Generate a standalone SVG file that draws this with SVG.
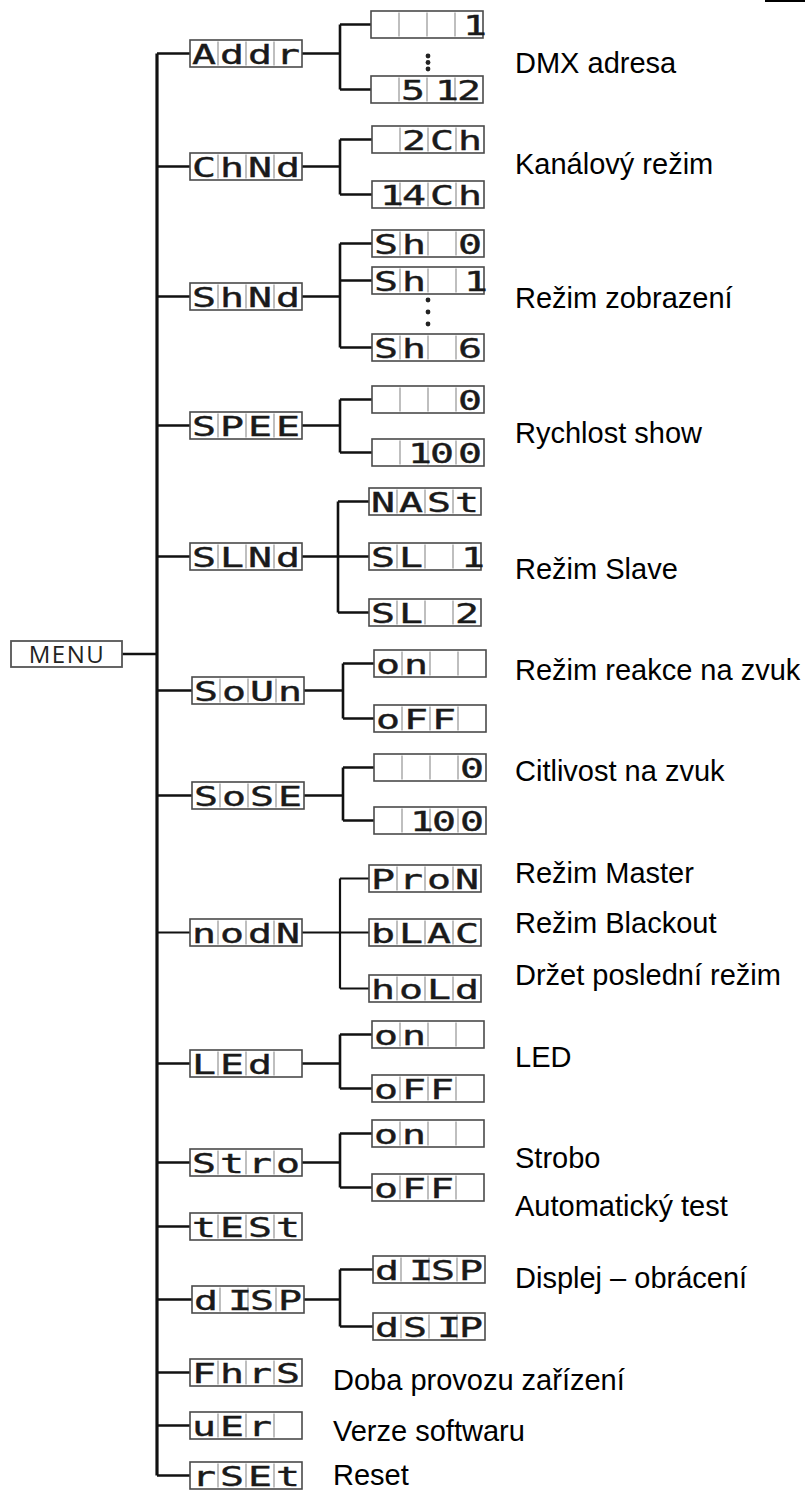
<svg xmlns="http://www.w3.org/2000/svg" xmlns:xlink="http://www.w3.org/1999/xlink" width="805" height="1492" viewBox="0 0 805 1492">
<style>
.bx{fill:#fff;stroke:#4a4a4a;stroke-width:1.6}
.dv{stroke:#b0b0b0;stroke-width:1.6;fill:none}
.seg{font-family:"DejaVu Sans Mono",monospace;font-size:21px;fill:#1a1a1a;stroke:#1a1a1a;stroke-width:0.3;text-anchor:middle}
.lbl{font-family:"Liberation Sans",Arial,sans-serif;font-size:29px;fill:#000}
.cn{fill:none;stroke:#111;stroke-width:2.6}
.tr{fill:none;stroke:#111;stroke-width:3.2}
.dot{fill:#222}
</style>
<defs>
<g id="box"><rect class="bx" x="0" y="0" width="112" height="27"/><path class="dv" d="M28 1.5V25.5M56 1.5V25.5M84 1.5V25.5"/></g>
</defs>
<rect width="805" height="1492" fill="#fff"/>
<path d="M765 1H805" stroke="#000" stroke-width="2"/>

<g id="connectors">
<path class="tr" d="M157 53.5V1475.5"/>
<path class="cn" d="M122 654H157"/>
<path class="cn" d="M157 53.5H190M302 53.5H340M340 24.5V89.5M340 24.5H371M340 89.5H371"/>
<path class="cn" d="M157 166.5H190M302 166.5H340M340 139.5V194.5M340 139.5H372M340 194.5H372"/>
<path class="cn" d="M157 296.5H190M302 296.5H340M340 243.5V347.5M340 243.5H372M340 280.5H372M340 347.5H372"/>
<path class="cn" d="M157 425.5H190M302 425.5H340M340 399.5V452.5M340 399.5H372M340 452.5H372"/>
<path class="cn" d="M157 556.5H190M302 556.5H338M338 501.5V612.5M338 501.5H369M338 556.5H369M338 612.5H369"/>
<path class="cn" d="M157 690.5H192M304 690.5H343M343 663.5V718.5M343 663.5H374M343 718.5H374"/>
<path class="cn" d="M157 795.5H192M304 795.5H343M343 767.5V820.5M343 767.5H374M343 820.5H374"/>
<path class="cn" d="M157 932.5H190M302 932.5H369M340 878.5V988.5M340 878.5H369M340 988.5H369" style="stroke-width:2.2"/>
<path class="cn" d="M157 1063.5H190M302 1063.5H340M340 1034.5V1088.5M340 1034.5H372M340 1088.5H372"/>
<path class="cn" d="M157 1162.5H190M302 1162.5H340M340 1133.5V1187.5M340 1133.5H372M340 1187.5H372"/>
<path class="cn" d="M157 1226.5H190"/>
<path class="cn" d="M157 1299.5H192M304 1299.5H340M340 1269.5V1326.5M340 1269.5H373M340 1326.5H373"/>
<path class="cn" d="M157 1372.5H190"/>
<path class="cn" d="M157 1425.5H190"/>
<path class="cn" d="M157 1475.5H190"/>
<circle class="dot" cx="428" cy="56" r="2.4"/><circle class="dot" cx="428" cy="62.5" r="2.4"/><circle class="dot" cx="428" cy="69" r="2.4"/>
<circle class="dot" cx="428" cy="300" r="2.4"/><circle class="dot" cx="428" cy="312" r="2.4"/><circle class="dot" cx="428" cy="324" r="2.4"/>
</g>

<g id="menu"><rect x="11" y="641" width="111" height="26" fill="#fff" stroke="#555" stroke-width="1.8"/><text x="67" y="663" text-anchor="middle" style="font-family:'Open Sans',sans-serif;font-size:24px;letter-spacing:1.5px;fill:#222">MENU</text></g>

<g id="n-addr" transform="translate(190,40)"><use href="#box"/><text class="seg" transform="scale(1.9,1.3)" x="7.37 22.1 36.84 51.58" y="18.5">Addr</text></g>
<g id="n-addr-1" transform="translate(371,11)"><use href="#box"/><text class="seg" transform="scale(1.9,1.3)" x="54.7" y="18.5">1</text></g>
<g id="n-addr-512" transform="translate(371,76)"><use href="#box"/><text class="seg" transform="scale(1.9,1.3)" x="22.1 40 51.58" y="18.5">512</text></g>

<g id="n-chnd" transform="translate(190,153)"><use href="#box"/><text class="seg" transform="scale(1.9,1.3)" x="7.37 22.1 36.84 51.58" y="18.5">ChNd</text></g>
<g id="n-2ch" transform="translate(372,126)"><use href="#box"/><text class="seg" transform="scale(1.9,1.3)" x="22.1 36.84 51.58" y="18.5">2Ch</text></g>
<g id="n-14ch" transform="translate(372,181)"><use href="#box"/><text class="seg" transform="scale(1.9,1.3)" x="10.5 22.1 36.84 51.58" y="18.5">14Ch</text></g>

<g id="n-shnd" transform="translate(190,283)"><use href="#box"/><text class="seg" transform="scale(1.9,1.3)" x="7.37 22.1 36.84 51.58" y="18.5">ShNd</text></g>
<g id="n-sh0" transform="translate(372,230)"><use href="#box"/><text class="seg" transform="scale(1.9,1.3)" x="7.37 22.1 51.58" y="18.5">Sh0</text></g>
<g id="n-sh1" transform="translate(372,267)"><use href="#box"/><text class="seg" transform="scale(1.9,1.3)" x="7.37 22.1 54.7" y="18.5">Sh1</text></g>
<g id="n-sh6" transform="translate(372,334)"><use href="#box"/><text class="seg" transform="scale(1.9,1.3)" x="7.37 22.1 51.58" y="18.5">Sh6</text></g>

<g id="n-spee" transform="translate(190,412)"><use href="#box"/><text class="seg" transform="scale(1.9,1.3)" x="7.37 22.1 36.84 51.58" y="18.5">SPEE</text></g>
<g id="n-spee-0" transform="translate(372,386)"><use href="#box"/><text class="seg" transform="scale(1.9,1.3)" x="51.58" y="18.5">0</text></g>
<g id="n-spee-100" transform="translate(372,439)"><use href="#box"/><text class="seg" transform="scale(1.9,1.3)" x="25.26 36.84 51.58" y="18.5">100</text></g>

<g id="n-slnd" transform="translate(190,543)"><use href="#box"/><text class="seg" transform="scale(1.9,1.3)" x="7.37 22.1 36.84 51.58" y="18.5">SLNd</text></g>
<g id="n-nast" transform="translate(369,488)"><use href="#box"/><text class="seg" transform="scale(1.9,1.3)" x="7.37 22.1 36.84 51.58" y="18.5">NASt</text></g>
<g id="n-sl1" transform="translate(369,543)"><use href="#box"/><text class="seg" transform="scale(1.9,1.3)" x="7.37 22.1 54.7" y="18.5">SL1</text></g>
<g id="n-sl2" transform="translate(369,599)"><use href="#box"/><text class="seg" transform="scale(1.9,1.3)" x="7.37 22.1 51.58" y="18.5">SL2</text></g>

<g id="n-soun" transform="translate(192,677)"><use href="#box"/><text class="seg" transform="scale(1.9,1.3)" x="7.37 22.1 36.84 51.58" y="18.5">SoUn</text></g>
<g id="n-soun-on" transform="translate(374,650)"><use href="#box"/><text class="seg" transform="scale(1.9,1.3)" x="7.37 22.1" y="18.5">on</text></g>
<g id="n-soun-off" transform="translate(374,705)"><use href="#box"/><text class="seg" transform="scale(1.9,1.3)" x="7.37 22.1 36.84" y="18.5">oFF</text></g>

<g id="n-sose" transform="translate(192,782)"><use href="#box"/><text class="seg" transform="scale(1.9,1.3)" x="7.37 22.1 36.84 51.58" y="18.5">SoSE</text></g>
<g id="n-sose-0" transform="translate(374,754)"><use href="#box"/><text class="seg" transform="scale(1.9,1.3)" x="51.58" y="18.5">0</text></g>
<g id="n-sose-100" transform="translate(374,807)"><use href="#box"/><text class="seg" transform="scale(1.9,1.3)" x="25.26 36.84 51.58" y="18.5">100</text></g>

<g id="n-nodn" transform="translate(190,919)"><use href="#box"/><text class="seg" transform="scale(1.9,1.3)" x="7.37 22.1 36.84 51.58" y="18.5">nodN</text></g>
<g id="n-pron" transform="translate(369,865)"><use href="#box"/><text class="seg" transform="scale(1.9,1.3)" x="7.37 22.1 36.84 51.58" y="18.5">ProN</text></g>
<g id="n-blac" transform="translate(369,919)"><use href="#box"/><text class="seg" transform="scale(1.9,1.3)" x="7.37 22.1 36.84 51.58" y="18.5">bLAC</text></g>
<g id="n-hold" transform="translate(369,975)"><use href="#box"/><text class="seg" transform="scale(1.9,1.3)" x="7.37 22.1 36.84 51.58" y="18.5">hoLd</text></g>

<g id="n-led" transform="translate(190,1050)"><use href="#box"/><text class="seg" transform="scale(1.9,1.3)" x="7.37 22.1 36.84" y="18.5">LEd</text></g>
<g id="n-led-on" transform="translate(372,1021)"><use href="#box"/><text class="seg" transform="scale(1.9,1.3)" x="7.37 22.1" y="18.5">on</text></g>
<g id="n-led-off" transform="translate(372,1075)"><use href="#box"/><text class="seg" transform="scale(1.9,1.3)" x="7.37 22.1 36.84" y="18.5">oFF</text></g>

<g id="n-stro" transform="translate(190,1149)"><use href="#box"/><text class="seg" transform="scale(1.9,1.3)" x="7.37 22.1 36.84 51.58" y="18.5">Stro</text></g>
<g id="n-stro-on" transform="translate(372,1120)"><use href="#box"/><text class="seg" transform="scale(1.9,1.3)" x="7.37 22.1" y="18.5">on</text></g>
<g id="n-stro-off" transform="translate(372,1174)"><use href="#box"/><text class="seg" transform="scale(1.9,1.3)" x="7.37 22.1 36.84" y="18.5">oFF</text></g>

<g id="n-test" transform="translate(190,1213)"><use href="#box"/><text class="seg" transform="scale(1.9,1.3)" x="7.37 22.1 36.84 51.58" y="18.5">tESt</text></g>

<g id="n-disp" transform="translate(192,1286)"><use href="#box"/><text class="seg" transform="scale(1.9,1.3)" x="7.37 25.26 36.84 51.58" y="18.5">dISP</text></g>
<g id="n-disp-1" transform="translate(373,1256)"><use href="#box"/><text class="seg" transform="scale(1.9,1.3)" x="7.37 25.26 36.84 51.58" y="18.5">dISP</text></g>
<g id="n-disp-2" transform="translate(373,1313)"><use href="#box"/><text class="seg" transform="scale(1.9,1.3)" x="7.37 22.1 40 51.58" y="18.5">dSIP</text></g>

<g id="n-fhrs" transform="translate(190,1359)"><use href="#box"/><text class="seg" transform="scale(1.9,1.3)" x="7.37 22.1 36.84 51.58" y="18.5">FhrS</text></g>
<g id="n-uer" transform="translate(190,1412)"><use href="#box"/><text class="seg" transform="scale(1.9,1.3)" x="7.37 22.1 36.84" y="18.5">uEr</text></g>
<g id="n-rset" transform="translate(190,1462)"><use href="#box"/><text class="seg" transform="scale(1.9,1.3)" x="7.37 22.1 36.84 51.58" y="18.5">rSEt</text></g>

<g id="labels">
<text class="lbl" x="515" y="73">DMX adresa</text>
<text class="lbl" x="515" y="174">Kanálový režim</text>
<text class="lbl" x="515" y="308">Režim zobrazení</text>
<text class="lbl" x="515" y="443">Rychlost show</text>
<text class="lbl" x="515" y="579">Režim Slave</text>
<text class="lbl" x="515" y="680">Režim reakce na zvuk</text>
<text class="lbl" x="515" y="781">Citlivost na zvuk</text>
<text class="lbl" x="515" y="883">Režim Master</text>
<text class="lbl" x="515" y="933">Režim Blackout</text>
<text class="lbl" x="515" y="985">Držet poslední režim</text>
<text class="lbl" x="515" y="1067">LED</text>
<text class="lbl" x="515" y="1168">Strobo</text>
<text class="lbl" x="515" y="1216">Automatický test</text>
<text class="lbl" x="515" y="1288">Displej – obrácení</text>
<text class="lbl" x="333" y="1390">Doba provozu zařízení</text>
<text class="lbl" x="333" y="1441">Verze softwaru</text>
<text class="lbl" x="333" y="1485">Reset</text>
</g>
</svg>
